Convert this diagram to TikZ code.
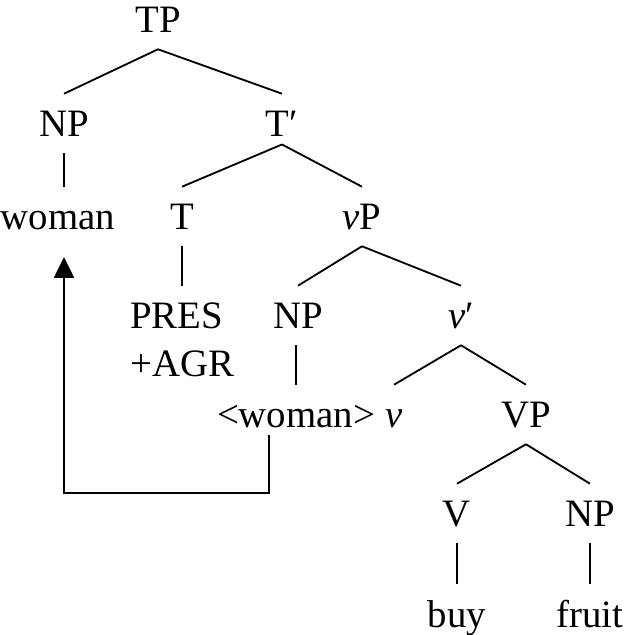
\documentclass[tikz,border=0pt]{standalone}
\usepackage{fontspec}
\setmainfont{Liberation Serif}
\usepackage{tikz}
\usetikzlibrary{arrows.meta}

\tikzset{
    cat/.style={inner sep=0pt, text height=1.075cm, text depth=0.4cm, anchor=base},
    branch/.style={line width=1.3pt},
    mover/.style={line width=1.3pt, -{Triangle[width=0.5cm, length=0.52cm]}}
}

\begin{document}
\begin{tikzpicture}[font=\fontsize{27.6}{33}\selectfont]
    \useasboundingbox (0,0) rectangle (15.6,15.875);

    % Upper part
    \node[cat] (tp) at (3.95,15.05) {TP};
    \node[cat] (np1) at (1.6,12.45) {NP};
    \node[cat, text depth=0.18cm] (tbar) at (7.05,12.45) {T′};
    \node[cat] (woman) at (1.45,10.125) {woman};
    \node[cat] (t) at (4.55,10.125) {T};
    \node[cat] (vp) at (9.05,10.125) {\textit{v}P};

    % Middle part
    \node[cat, anchor=base west] (pres) at (3.25,7.65) {PRES};
    \node[cat, anchor=base west] (agr) at (3.25,6.45) {+AGR};
    \node[cat] (np2) at (7.45,7.65) {NP};
    \node[cat] (vbar) at (11.525,7.65) {\textit{v}′};
    \node[cat] (wom) at (7.4,5.175) {\textless woman\textgreater};
    \node[cat] (vsm) at (9.85,5.175) {\textit{v}};
    \node[cat] (vpp) at (13.15,5.175) {VP};

    % Lower part
    \node[cat] (vv) at (11.425,2.7) {V};
    \node[cat] (np3) at (14.75,2.7) {NP};
    \node[cat] (buy) at (11.425,0.2) {buy};
    \node[cat] (fruit) at (14.75,0.2) {fruit};

    % Branches
    \foreach \a/\b in {tp/np1, tp/tbar, tbar/t, tbar/vp, vp/np2, vp/vbar,
                       vbar/vsm, vbar/vpp, vpp/vv, vpp/np3, vv/buy, np3/fruit} {
        \draw[branch] (\a.south) -- (\b.north);
    }
    \draw[branch] (np1.south) -- (np1.south |- woman.north);
    \draw[branch] (t.south) -- (t.south |- pres.north);
    \draw[branch] (wom.north |- np2.south) -- (wom.north);

    % Movement
    \coordinate (trace) at (6.725,5.0);
    \coordinate (land) at (1.6,9.45);
    \draw[mover] (trace) -- ++(0,-1.45) -| (land);
\end{tikzpicture}
\end{document}
